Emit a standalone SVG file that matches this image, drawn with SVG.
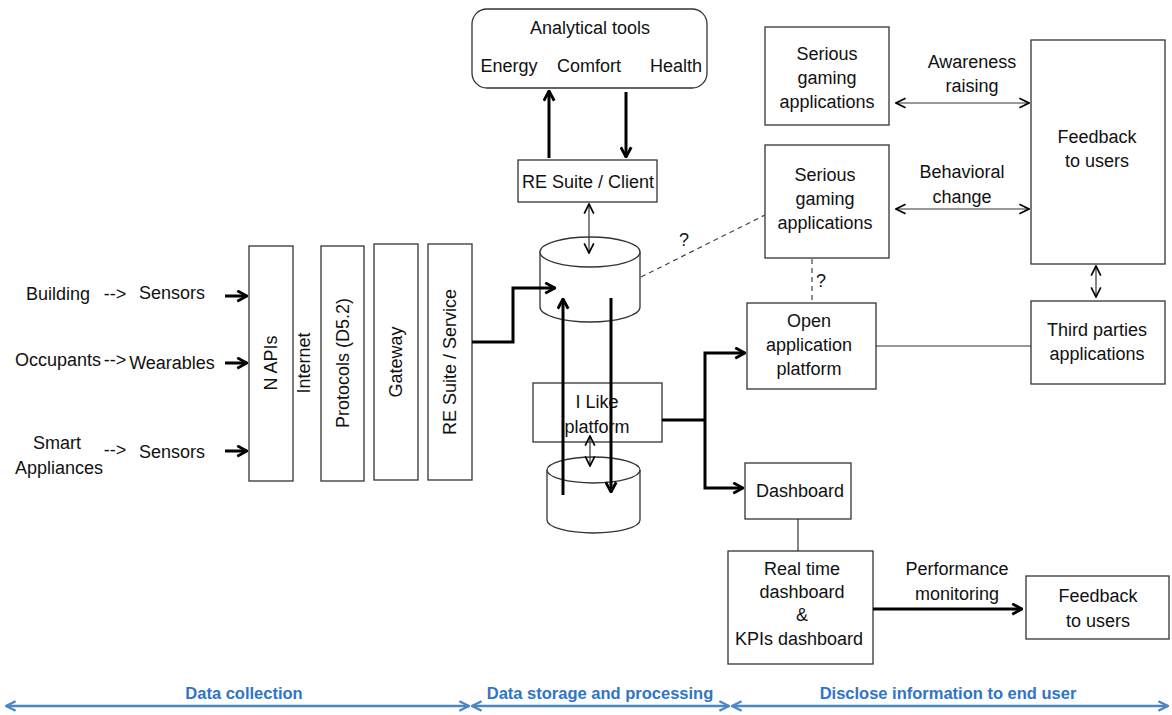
<svg xmlns="http://www.w3.org/2000/svg" width="1172" height="715" viewBox="0 0 1172 715">
<defs>
<marker id="ah" viewBox="0 0 10 10" refX="9" refY="5" markerWidth="13" markerHeight="13" markerUnits="userSpaceOnUse" orient="auto-start-reverse">
<path d="M1.5,1 L9,5 L1.5,9" fill="none" stroke="#000" stroke-width="2.2"/>
</marker>
<marker id="ahT" viewBox="0 0 10 10" refX="9" refY="5" markerWidth="12" markerHeight="12" markerUnits="userSpaceOnUse" orient="auto-start-reverse">
<path d="M1,1 L9,5 L1,9" fill="none" stroke="#000" stroke-width="1.4"/>
</marker>
<marker id="ahB" viewBox="0 0 10 10" refX="9" refY="5" markerWidth="12" markerHeight="14" markerUnits="userSpaceOnUse" orient="auto-start-reverse">
<path d="M1,1 L9,5 L1,9" fill="none" stroke="#4a86c8" stroke-width="2"/>
</marker>
</defs>
<style>
text{font-family:"Liberation Sans",Arial,sans-serif;font-size:18px;fill:#111;text-anchor:middle}
.box{fill:#fff;stroke:#333;stroke-width:1.3}
.thick{fill:none;stroke:#000;stroke-width:3}
.thin{fill:none;stroke:#333;stroke-width:1.2}
.dash{fill:none;stroke:#444;stroke-width:1.2;stroke-dasharray:5,4}
.blue{fill:none;stroke:#4a86c8;stroke-width:2.5}
.bt{fill:#2e75c6;font-weight:bold;font-size:16.5px}
</style>
<rect width="1172" height="715" fill="#fff"/>

<g id="inputs">
<text x="58" y="300">Building</text>
<text x="115" y="300">--&gt;</text>
<text x="172" y="299">Sensors</text>
<text x="58" y="366">Occupants</text>
<text x="115" y="366">--&gt;</text>
<text x="172" y="369">Wearables</text>
<text x="57" y="449">Smart</text>
<text x="59" y="474">Appliances</text>
<text x="115" y="456">--&gt;</text>
<text x="172" y="458">Sensors</text>
</g>

<g id="napis"><rect class="box" x="249" y="246" width="44" height="235"/><text transform="translate(277,363) rotate(-90)">N APIs</text></g>
<g id="internet"><text transform="translate(310,363) rotate(-90)">Internet</text></g>
<g id="protocols"><rect class="box" x="321" y="246" width="43" height="235"/><text transform="translate(349,363) rotate(-90)">Protocols (D5.2)</text></g>
<g id="gateway"><rect class="box" x="374" y="244" width="44" height="236"/><text transform="translate(402,362) rotate(-90)">Gateway</text></g>
<g id="resuite-service"><rect class="box" x="428" y="244" width="44" height="236"/><text transform="translate(456,362) rotate(-90)">RE Suite / Service</text></g>

<g id="analytical"><rect class="box" x="472" y="9" width="235" height="79" rx="15"/>
<text x="590" y="34">Analytical tools</text>
<text x="509" y="72">Energy</text><text x="589" y="72">Comfort</text><text x="676" y="72">Health</text></g>

<g id="resuite-client"><rect class="box" x="518" y="160" width="139" height="42"/><text x="588" y="188">RE Suite / Client</text></g>

<g id="db-top">
<path class="box" d="M540,252 L540,307 A50,15 0 0 0 640,307 L640,252"/>
<ellipse class="box" cx="590" cy="252" rx="50" ry="15"/>
</g>

<g id="ilike"><rect class="box" x="533" y="383" width="129" height="59"/><text x="597" y="408">I Like</text><text x="597" y="433">platform</text></g>

<g id="db-bottom">
<path class="box" d="M547,470 L547,520 A46.5,13 0 0 0 640,520 L640,470"/>
<ellipse class="box" cx="593.5" cy="470" rx="46.5" ry="13"/>
</g>

<g id="serious1"><rect class="box" x="765" y="27" width="124" height="98"/><text x="827" y="60">Serious</text><text x="827" y="84">gaming</text><text x="827" y="108">applications</text></g>
<g id="serious2"><rect class="box" x="765" y="145" width="124" height="113"/><text x="825" y="181">Serious</text><text x="825" y="205">gaming</text><text x="825" y="229">applications</text></g>
<g id="feedback1"><rect class="box" x="1031" y="40" width="134" height="224"/><text x="1097" y="143">Feedback</text><text x="1097" y="167">to users</text></g>
<g id="thirdparties"><rect class="box" x="1031" y="301" width="134" height="83"/><text x="1097" y="336">Third parties</text><text x="1097" y="360">applications</text></g>
<g id="openapp"><rect class="box" x="747" y="303" width="129" height="86"/><text x="809" y="327">Open</text><text x="809" y="351">application</text><text x="809" y="375">platform</text></g>
<g id="dashboard"><rect class="box" x="745" y="463" width="106" height="56"/><text x="800" y="497">Dashboard</text></g>
<g id="realtime"><rect class="box" x="728" y="551" width="145" height="113"/><text x="802" y="575">Real time</text><text x="802" y="598">dashboard</text><text x="802" y="621">&amp;</text><text x="799" y="645">KPIs dashboard</text></g>
<g id="feedback2"><rect class="box" x="1026" y="576" width="143" height="63"/><text x="1098" y="602">Feedback</text><text x="1098" y="627">to users</text></g>

<g id="connectors">
<line class="thick" x1="225" y1="296" x2="247" y2="296" marker-end="url(#ah)"/>
<line class="thick" x1="225" y1="363" x2="247" y2="363" marker-end="url(#ah)"/>
<line class="thick" x1="225" y1="451" x2="247" y2="451" marker-end="url(#ah)"/>
<polyline class="thick" points="472,342 513,342 513,288 555,288" marker-end="url(#ah)"/>
<line class="thick" x1="549" y1="158" x2="549" y2="91" marker-end="url(#ah)"/>
<line class="thick" x1="626" y1="92" x2="626" y2="157" marker-end="url(#ah)"/>
<line class="thin" x1="589" y1="204" x2="589" y2="253" marker-start="url(#ahT)" marker-end="url(#ahT)"/>
<line class="thick" x1="563" y1="495" x2="563" y2="299" marker-end="url(#ah)"/>
<line class="thick" x1="611" y1="298" x2="611" y2="492" marker-end="url(#ah)"/>
<line class="thin" x1="590" y1="436" x2="590" y2="466" marker-start="url(#ahT)" marker-end="url(#ahT)"/>
<polyline class="thick" points="662,420 705,420"/>
<polyline class="thick" points="745,353 705,353 705,488 743,488" marker-start="url(#ah)" marker-end="url(#ah)"/>
<line class="dash" x1="641" y1="277" x2="765" y2="215"/>
<text x="684" y="246">?</text>
<line class="dash" x1="812" y1="259" x2="812" y2="302"/>
<text x="821" y="287">?</text>
<line class="thin" x1="896" y1="103" x2="1029" y2="103" marker-start="url(#ahT)" marker-end="url(#ahT)" stroke-width="1.8"/>
<text x="972" y="68">Awareness</text><text x="972" y="92">raising</text>
<line class="thin" x1="896" y1="209" x2="1029" y2="209" marker-start="url(#ahT)" marker-end="url(#ahT)" stroke-width="1.8"/>
<text x="962" y="178">Behavioral</text><text x="962" y="203">change</text>
<line class="thin" x1="1096" y1="266" x2="1096" y2="297" marker-start="url(#ahT)" marker-end="url(#ahT)" stroke-width="1.8"/>
<line class="thin" x1="876" y1="346" x2="1031" y2="346"/>
<line class="thin" x1="798" y1="519" x2="798" y2="551"/>
<line class="thick" x1="873" y1="609" x2="1022" y2="609" marker-end="url(#ah)"/>
<text x="957" y="575">Performance</text><text x="957" y="600">monitoring</text>
</g>

<g id="phases">
<line class="blue" x1="6" y1="706" x2="469" y2="706" marker-start="url(#ahB)" marker-end="url(#ahB)"/>
<line class="blue" x1="472" y1="706" x2="729" y2="706" marker-start="url(#ahB)" marker-end="url(#ahB)"/>
<line class="blue" x1="732" y1="706" x2="1168" y2="706" marker-start="url(#ahB)" marker-end="url(#ahB)"/>
<text class="bt" x="244" y="699">Data collection</text>
<text class="bt" x="600" y="699">Data storage and processing</text>
<text class="bt" x="948" y="699">Disclose information to end user</text>
</g>
</svg>
